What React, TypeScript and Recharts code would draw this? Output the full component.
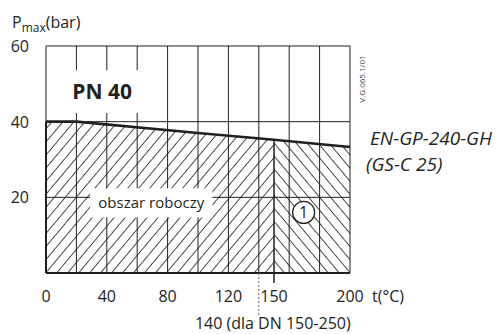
import { ComposedChart, Area, Line, XAxis, YAxis, ReferenceLine, ReferenceArea, ReferenceDot } from 'recharts';

const temps = [0, 20, 100, 150, 200];
const pressure = [40, 40, 37, 35.2, 33.3];
const xTicks = [0, 40, 80, 120, 140, 150, 200];
const yTicks = [20, 40, 60];
const gridTemps = [20, 40, 60, 80, 100, 120, 140, 160, 180];
const gridPressures = [20, 40];
const splitTemp = 150;

const data = temps.map((t, i) => ({
  t,
  p: pressure[i],
  zoneA: t <= splitTemp ? pressure[i] : null,
  zoneB: t >= splitTemp ? pressure[i] : null,
}));

const INK = '#231f20';
const FONT = '"Open Sans", sans-serif';

function XTick(props: any) {
  const { x, y, payload } = props;
  const v = payload.value;
  if (v === 140) {
    return (
      <g>
        <line x1={x} y1={y} x2={x} y2={y + 43} stroke="#666" strokeDasharray="2 2" />
        <text x={x + 14} y={y + 56} textAnchor="middle" fontSize={16} fill={INK} fontFamily={FONT}>
          140 (dla DN 150-250)
        </text>
      </g>
    );
  }
  return (
    <g>
      {v === 150 && <line x1={x} y1={y} x2={x} y2={y + 10} stroke={INK} strokeWidth={1.5} />}
      <text x={x} y={y + 29} textAnchor="middle" fontSize={16} fill={INK} fontFamily={FONT}>
        {v}
      </text>
    </g>
  );
}

function YTick(props: any) {
  const { x, y, payload } = props;
  return (
    <text x={x - 17} y={y + 6} textAnchor="end" fontSize={16} fill={INK} fontFamily={FONT}>
      {payload.value}
    </text>
  );
}

function BoxText({ text, size, bold }: { text: string; size: number; bold?: boolean }) {
  return (props: any) => {
    const vb = props.viewBox || {};
    const cx = (vb.x ?? 0) + (vb.width ?? 0) / 2;
    const cy = (vb.y ?? 0) + (vb.height ?? 0) / 2;
    return (
      <text
        x={cx}
        y={cy + size * 0.36}
        textAnchor="middle"
        fontSize={size}
        fontWeight={bold ? 'bold' : 'normal'}
        fill={INK}
        fontFamily={FONT}
      >
        {text}
      </text>
    );
  };
}

const pnLabel = BoxText({ text: 'PN 40', size: 21, bold: true });
const workLabel = BoxText({ text: 'obszar roboczy', size: 15 });

function CircleOne(props: any) {
  const vb = props.viewBox || {};
  const cx = (vb.x ?? 0) + (vb.width ?? 0) / 2;
  const cy = (vb.y ?? 0) + (vb.height ?? 0) / 2;
  return (
    <text x={cx} y={cy + 5.5} textAnchor="middle" fontSize={16} fill={INK} fontFamily={FONT}>
      1
    </text>
  );
}

export default function App() {
  return (
    <div style={{ position: 'fixed', left: 0, top: 0, width: 499, height: 334, background: '#fff' }}>
      <ComposedChart width={499} height={334} data={data} margin={{ top: 46, right: 149, left: 0, bottom: 0 }}>
        <defs>
          <pattern id="hatchA" patternUnits="userSpaceOnUse" width={8.4} height={8.4} patternTransform="rotate(40)">
            <line x1={0} y1={0} x2={0} y2={8.4} stroke="#000" strokeWidth={1.4} />
          </pattern>
          <pattern id="hatchB" patternUnits="userSpaceOnUse" width={8.4} height={8.4} patternTransform="rotate(-40)">
            <line x1={0} y1={0} x2={0} y2={8.4} stroke="#000" strokeWidth={1.4} />
          </pattern>
        </defs>
        <XAxis
          dataKey="t"
          type="number"
          domain={[0, 200]}
          ticks={xTicks}
          interval={0}
          height={61}
          tickSize={0}
          tickMargin={0}
          tick={<XTick />}
          axisLine={{ stroke: INK, strokeWidth: 2 }}
          tickLine={false}
        />
        <YAxis
          type="number"
          domain={[0, 60]}
          ticks={yTicks}
          interval={0}
          width={46}
          tickSize={0}
          tickMargin={0}
          tick={<YTick />}
          axisLine={{ stroke: INK, strokeWidth: 1 }}
          tickLine={false}
        />
        <Area dataKey="zoneA" type="linear" stroke="none" fill="url(#hatchA)" fillOpacity={1} isAnimationActive={false} />
        <Area dataKey="zoneB" type="linear" stroke="none" fill="url(#hatchB)" fillOpacity={1} isAnimationActive={false} />
        {gridTemps.map(t => (
          <ReferenceLine key={'v' + t} x={t} stroke={INK} strokeWidth={1} />
        ))}
        {gridPressures.map(p => (
          <ReferenceLine key={'h' + p} y={p} stroke={INK} strokeWidth={1} />
        ))}
        <ReferenceLine y={60} stroke={INK} strokeWidth={1} />
        <ReferenceLine x={200} stroke={INK} strokeWidth={1} />
        <ReferenceLine segment={[{ x: 0, y: 0 }, { x: 0, y: 40 }]} stroke={INK} strokeWidth={2} />
        <ReferenceLine segment={[{ x: 150, y: 0 }, { x: 150, y: 35.2 }]} stroke={INK} strokeWidth={1.5} />
        <Line dataKey="p" type="linear" stroke={INK} strokeWidth={2.6} dot={false} isAnimationActive={false} />
        <ReferenceArea
          x1={9}
          x2={65}
          y1={42.3}
          y2={53.6}
          fill="#fff"
          fillOpacity={1}
          stroke="none"
          zIndex={1500}
          label={pnLabel}
        />
        <ReferenceArea
          x1={29}
          x2={109.5}
          y1={14.7}
          y2={22.4}
          fill="#fff"
          fillOpacity={1}
          stroke="none"
          zIndex={1500}
          label={workLabel}
        />
        <ReferenceDot x={169.5} y={16} r={11} fill="#fff" stroke={INK} strokeWidth={1.2} zIndex={1500} label={CircleOne} />
        <text x={12} y={28} fontSize={16} fill={INK} fontFamily={FONT}>
          P<tspan fontSize={12} dy={4}>max</tspan>
          <tspan fontSize={16} dy={-4}>(bar)</tspan>
        </text>
        <text x={370} y={145} fontSize={19} fontStyle="italic" fill={INK} fontFamily={FONT}>EN-GP-240-GH</text>
        <text x={366} y={171} fontSize={19} fontStyle="italic" fill={INK} fontFamily={FONT}>(GS-C 25)</text>
        <text x={372} y={302} fontSize={16} fill={INK} fontFamily={FONT}>t(°C)</text>
        <text
          x={365}
          y={79}
          fontSize={8}
          fill="#444"
          fontFamily={FONT}
          textAnchor="middle"
          transform="rotate(-90 365 79)"
        >
          V.G.065.1/01
        </text>
      </ComposedChart>
    </div>
  );
}
